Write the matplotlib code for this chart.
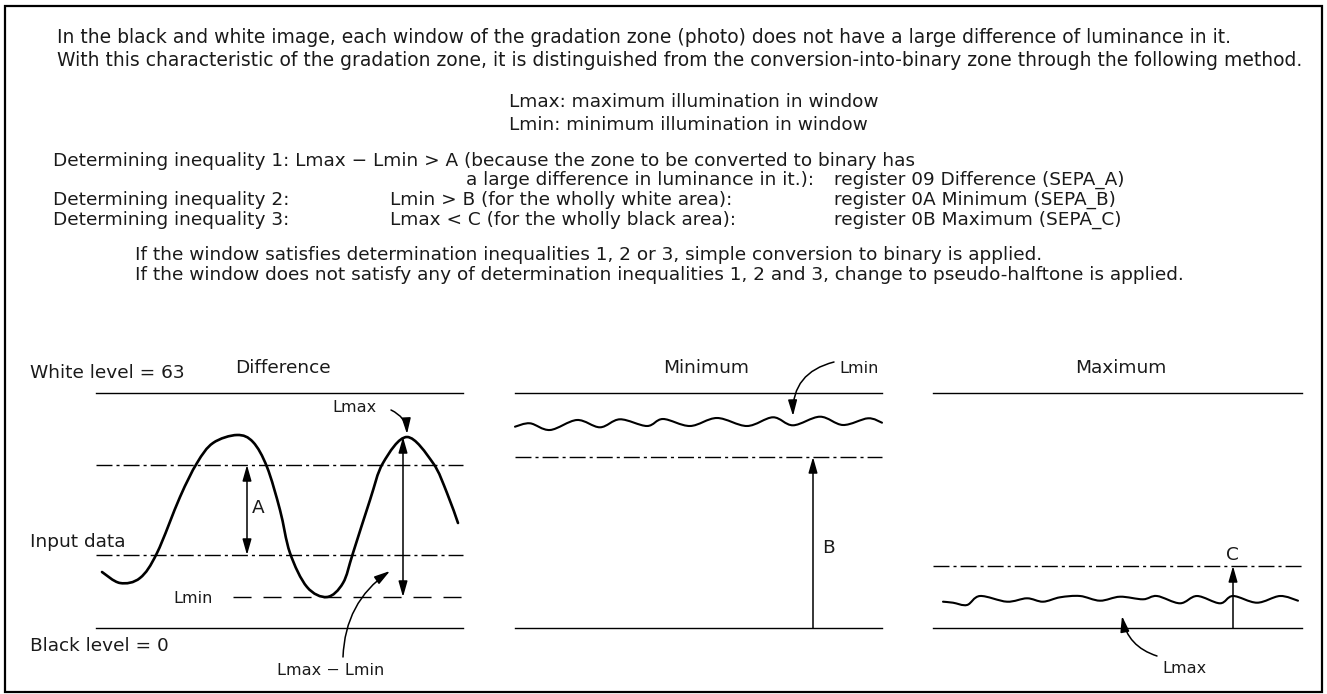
import numpy as np
import matplotlib
matplotlib.use("Agg")
import matplotlib.pyplot as plt
from matplotlib.path import Path
from matplotlib.patches import PathPatch, Rectangle

plt.rcParams['font.family'] = ['DejaVu Sans']
plt.rcParams['lines.scale_dashes'] = False

# ---------------- data ----------------
intro_lines = [
    "In the black and white image, each window of the gradation zone (photo) does not have a large difference of luminance in it.",
    "With this characteristic of the gradation zone, it is distinguished from the conversion-into-binary zone through the following method.",
]
defs = ["Lmax: maximum illumination in window", "Lmin: minimum illumination in window"]
ineq_labels = ["Determining inequality 1: Lmax \u2212 Lmin > A (because the zone to be converted to binary has",
               "Determining inequality 2:", "Determining inequality 3:"]
ineq1_cont = "a large difference in luminance in it.):"
ineq_exprs = ["Lmin > B (for the wholly white area):", "Lmax < C (for the wholly black area):"]
registers = ["register 09 Difference (SEPA_A)", "register 0A Minimum (SEPA_B)", "register 0B Maximum (SEPA_C)"]
rules = ["If the window satisfies determination inequalities 1, 2 or 3, simple conversion to binary is applied.",
         "If the window does not satisfy any of determination inequalities 1, 2 and 3, change to pseudo-halftone is applied."]

panel_titles = ["Difference", "Minimum", "Maximum"]
panel_x = [(96, 463), (515, 882), (933, 1302)]
white_y = 393
black_y = 628
diff_thresh_hi = 465
diff_thresh_lo = 555
diff_lmin = 597
min_thresh = 457
max_thresh = 566

# input-data curve (Difference panel)
diff_x = [102, 120, 140, 157, 180, 197, 213, 237, 253, 267, 280, 290, 307, 327, 343, 353, 370, 383, 407, 433, 447, 458]
diff_y = [572, 583, 578, 553, 497, 463, 443, 435, 442, 467, 510, 553, 587, 597, 583, 553, 500, 463, 437, 463, 493, 523]
# near-white signal (Minimum panel)
min_x = [515, 530, 550, 577, 600, 620, 647, 663, 690, 717, 747, 773, 793, 820, 843, 868, 882]
min_y = [426.7, 423.3, 430, 420, 427.3, 419.3, 426, 419, 426, 418, 426, 417.3, 425.3, 416.7, 425, 418.3, 422.7]
# near-black signal (Maximum panel)
max_x = [943, 953, 967, 980, 1007, 1027, 1043, 1060, 1080, 1100, 1120, 1143, 1157, 1180, 1197, 1220, 1233, 1257, 1280, 1298]
max_y = [601.7, 602.7, 605, 596, 601.7, 598.3, 601.7, 597.3, 596, 600.7, 596.7, 599.3, 596, 603.3, 596, 603.3, 596, 602.7, 596, 600.7]

# ---------------- figure ----------------
fig = plt.figure(figsize=(13.27, 6.94), dpi=100)
ax = fig.add_axes([0, 0, 1, 1])
ax.set_xlim(0, 1327)
ax.set_ylim(694, 0)
ax.axis('off')

TXT = '#1a1a1a'
FS = 13.3
FSS = 11.6

ax.add_patch(Rectangle((5, 6), 1317, 686, fill=False, lw=1.6, ec='black'))

def put(x, y, s, fs=FS, ha='left'):
    ax.text(x, y, s, fontsize=fs, color=TXT, ha=ha, va='baseline')

put(57, 43, intro_lines[0], 13.5)
put(57, 66, intro_lines[1], 13.5)
put(509, 107, defs[0])
put(509, 130, defs[1])
put(53, 166, ineq_labels[0])
put(466, 185, ineq1_cont)
put(53, 205, ineq_labels[1])
put(53, 225, ineq_labels[2])
put(390, 205, ineq_exprs[0])
put(390, 225, ineq_exprs[1])
put(834, 185, registers[0])
put(834, 205, registers[1])
put(834, 225, registers[2])
put(135, 260, rules[0])
put(135, 280, rules[1])

# ---------------- diagram ----------------
def smooth(xs, ys):
    P = np.column_stack([xs, ys]).astype(float)
    E = np.vstack([P[0], P, P[-1]])
    verts = [P[0]]
    codes = [Path.MOVETO]
    for i in range(len(P) - 1):
        p0, p1, p2, p3 = E[i], E[i + 1], E[i + 2], E[i + 3]
        verts += [p1 + (p2 - p0) / 6, p2 - (p3 - p1) / 6, p2]
        codes += [Path.CURVE4] * 3
    return Path(verts, codes)

LW_LEVEL = 1.0
DASHDOT = (0, (11.5, 2.9, 2.2, 2.9))
DASHED = (0, (13, 8.6))

for (x0, x1) in panel_x:
    ax.plot([x0, x1], [white_y, white_y], color='black', lw=LW_LEVEL)
    ax.plot([x0, x1], [black_y, black_y], color='black', lw=LW_LEVEL)

p1, p2, p3 = panel_x
ax.plot(p1, [diff_thresh_hi] * 2, color='black', lw=LW_LEVEL, linestyle=DASHDOT)
ax.plot(p1, [diff_thresh_lo] * 2, color='black', lw=LW_LEVEL, linestyle=DASHDOT)
ax.plot([233, p1[1]], [diff_lmin] * 2, color='black', lw=LW_LEVEL, linestyle=DASHED)
ax.plot(p2, [min_thresh] * 2, color='black', lw=LW_LEVEL, linestyle=DASHDOT)
ax.plot(p3, [max_thresh] * 2, color='black', lw=LW_LEVEL, linestyle=DASHDOT)

ax.add_patch(PathPatch(smooth(diff_x, diff_y), fill=False, lw=1.9, ec='black', capstyle='round'))
ax.add_patch(PathPatch(smooth(min_x, min_y), fill=False, lw=1.5, ec='black', capstyle='round'))
ax.add_patch(PathPatch(smooth(max_x, max_y), fill=False, lw=1.5, ec='black', capstyle='round'))

def arrow(tip, tail, style='-|>', rad=0.0):
    ax.annotate('', xy=tip, xytext=tail,
                arrowprops=dict(arrowstyle=style + ',head_length=0.95,head_width=0.27',
                                lw=1.1, color='black', shrinkA=0, shrinkB=0,
                                mutation_scale=10,
                                connectionstyle='arc3,rad=%g' % rad))

arrow((247, diff_thresh_hi), (247, diff_thresh_lo), '<|-|>')
arrow((403, 437), (403, diff_lmin), '<|-|>')
arrow((813, min_thresh), (813, black_y))
arrow((1233, max_thresh), (1233, black_y))
arrow((407, 434), (391, 410), rad=-0.3)
arrow((390, 571), (343, 657), rad=-0.25)
arrow((793, 416), (834, 362), rad=0.4)
arrow((1122, 616), (1157, 656), rad=-0.3)

# labels
put(30, 378, "White level = 63")
put(30, 547, "Input data")
put(30, 651, "Black level = 0")
put(235, 373, panel_titles[0])
put(663, 373, panel_titles[1])
put(1075, 373, panel_titles[2])
put(332, 412, "Lmax", FSS)
put(173, 603, "Lmin", FSS)
put(252, 513, "A")
put(277, 675, "Lmax \u2212 Lmin", FSS)
put(839, 373, "Lmin", FSS)
put(822, 553, "B")
put(1226, 560, "C")
put(1162, 673, "Lmax", FSS)

fig.savefig("out.png", dpi=100)
